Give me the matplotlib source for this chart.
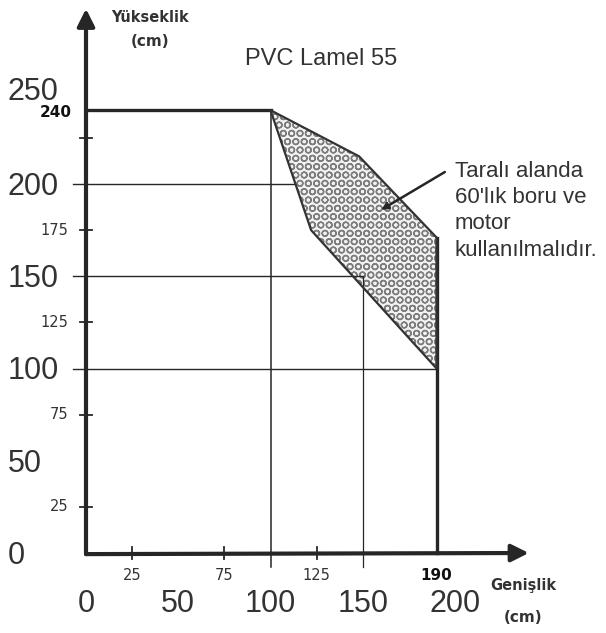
import matplotlib
matplotlib.use('Agg')
from matplotlib import pyplot as plt
from matplotlib.patches import Polygon

# 軸と目盛りの値 (cm)
big_ticks = [0, 50, 100, 150, 200]          # 大きいラベル
small_x_ticks = [25, 75, 125]
small_y_ticks = [25, 75, 125, 175, 225]
small_y_labels = [25, 75, 125, 175, None]
y_big_labels = [0, 50, 100, 150, 200, 250]
grid_y_long = [200, 150, 100]                # 横線
max_height = 240
min_width = 100
max_width = 190

# 斜線領域 (幅, 高さ)
area_w = [100, 148, 190, 190, 122]
area_h = [240, 215, 171, 100, 175]

title = "PVC Lamel 55"
note = "Taralı alanda\n60'lık boru ve\nmotor\nkullanılmalıdır."
arrow_tip = (160, 186)
arrow_tail = (194.5, 206.5)

# ピクセル換算 (1.845 px/cm, 原点 = (86, 553))
W, H, s, ox, oy = 606, 633, 1.845, 86, 553
fig = plt.figure(figsize=(W / 100, H / 100), dpi=100)
ax = fig.add_axes([0, 0, 1, 1])
ax.set_xlim(-ox / s, (W - ox) / s)
ax.set_ylim(-(H - oy) / s, oy / s)
ax.axis('off')

dark = '#262626'
txt = '#333333'
plt.rcParams['hatch.linewidth'] = 1.0

##### 斜線領域
ax.add_patch(Polygon(list(zip(area_w, area_h)), closed=True, facecolor='#f2f2f2',
                     edgecolor='#7d7d7d', hatch='OO', lw=0, zorder=2))
ax.add_patch(Polygon(list(zip(area_w, area_h)), closed=True, fill=False,
                     edgecolor='#333333', lw=1.6, zorder=4))

##### 線
# 横線: 左端から斜線領域まで
edge_x = {200: 113.5, 150: 150, 100: max_width}
for yv in grid_y_long:
    ax.plot([-7, edge_x[yv]], [yv, yv], color=dark, lw=1.0, zorder=3)
ax.plot([0, min_width], [max_height, max_height], color=dark, lw=2.4, zorder=3)
ax.plot([min_width, min_width], [-7.5, max_height], color=dark, lw=1.1, zorder=3)
ax.plot([150, 150], [-7.5, 150], color=dark, lw=0.9, zorder=3)
ax.plot([max_width, max_width], [0, area_h[2]], color=dark, lw=2.4, zorder=3)

##### 軸と矢印
ax.annotate('', xy=(240, 0), xytext=(0, -0.6),
            arrowprops=dict(arrowstyle='-|>', lw=3, color=dark, mutation_scale=26,
                            shrinkA=0, shrinkB=0), zorder=5)
ax.annotate('', xy=(0, 295), xytext=(0, -0.6),
            arrowprops=dict(arrowstyle='-|>', lw=3, color=dark, mutation_scale=26,
                            shrinkA=0, shrinkB=0), zorder=5)

for xv in small_x_ticks:
    ax.plot([xv, xv], [-3.5, 3.5], color=dark, lw=1.3, zorder=3)
for yv in small_y_ticks:
    ax.plot([-3.5, 3.5], [yv, yv], color=dark, lw=1.3, zorder=3)

##### ラベル
big_font = dict(family='Liberation Sans', fontsize=22, color=txt)
small_font = dict(family='DejaVu Sans', fontsize=10.5, color=txt)

for v in y_big_labels:
    off = 0 if v == 250 else -1.5
    ax.text(-42.5, v + off, str(v), ha='left', va='center', **big_font)
for v, lab in zip(small_y_ticks, small_y_labels):
    if lab is not None:
        ax.text(-9.5, v, str(lab), ha='right', va='center', **small_font)
ax.text(-7.5, max_height - 1.5, str(max_height), ha='right', va='center',
        family='DejaVu Sans', fontsize=11, fontweight='bold', color='#111111')

for v in big_ticks:
    ax.text(v, -27.5, str(v), ha='center', va='center', **big_font)
for v in small_x_ticks:
    ax.text(v, -12, str(v), ha='center', va='center', **small_font)
ax.text(max_width, -12, str(max_width), ha='center', va='center',
        family='DejaVu Sans', fontsize=11, fontweight='bold', color='#111111')

ax.text(34.7, 290, "Yükseklik", ha='center', va='center', family='DejaVu Sans',
        fontsize=10.5, fontweight='bold', color=txt)
ax.text(34.5, 277, "(cm)", ha='center', va='center', family='DejaVu Sans',
        fontsize=11, fontweight='bold', color=txt)
ax.text(237, -17.5, "Genişlik", ha='center', va='center', family='DejaVu Sans',
        fontsize=10.5, fontweight='bold', color=txt)
ax.text(237, -35, "(cm)", ha='center', va='center', family='DejaVu Sans',
        fontsize=11, fontweight='bold', color=txt)

ax.text(127.6, 268, title, ha='center', va='center', family='Liberation Sans',
        fontsize=17, color=txt)

##### 注釈
ax.text(200, 185.5, note, ha='left', va='center', family='Liberation Sans',
        fontsize=16, color=txt, linespacing=1.33, zorder=6)
ax.annotate('', xy=arrow_tip, xytext=arrow_tail,
            arrowprops=dict(arrowstyle='-|>', lw=1.8, color=dark, mutation_scale=10,
                            shrinkA=0, shrinkB=0), zorder=6)

fig.savefig('out.png', dpi=100)
